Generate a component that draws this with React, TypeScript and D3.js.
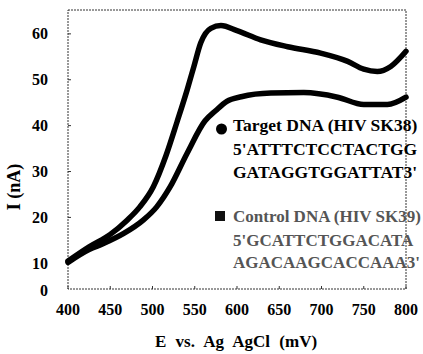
import React, { useEffect, useRef } from 'react';
import * as d3 from 'd3';

// E (mV) and current (nA)
const targetE = [400, 425, 450, 470, 485, 501, 516, 529, 541, 549, 557, 569, 581, 600, 628, 660, 699, 731, 750, 766, 782, 800];
const targetI = [10.5, 13.6, 16.3, 19.4, 22.3, 26.7, 33.5, 40.8, 47.8, 52.9, 58, 61.2, 61.8, 60.7, 58.7, 57.2, 55.8, 54, 52.3, 51.8, 52.9, 56.2];

const controlE = [400, 425, 442, 466, 489, 505, 521, 541, 562, 575, 588, 605, 640, 679, 719, 750, 778, 800];
const controlI = [10.2, 13.0, 14.3, 16.5, 19.4, 22.3, 26.7, 34, 41, 43.3, 45.3, 46.3, 47.1, 47.2, 46.2, 44.6, 44.6, 46.2];

const xTicks = [400, 450, 500, 550, 600, 650, 700, 750, 800];
const yTicks = [10, 20, 30, 40, 50, 60];

const targetLegend = ['Target DNA (HIV SK38)', "5'ATTTCTCCTACTGG", "GATAGGTGGATTAT3'"];
const controlLegend = ['Control DNA (HIV SK39)', "5'GCATTCTGGACATA", "AGACAAGCACCAAA3'"];

const W = 423;
const H = 354;
const FONT = "'Liberation Serif', 'Times New Roman', Tinos, 'DejaVu Serif', serif";

function App() {
  const ref = useRef<SVGSVGElement | null>(null);

  useEffect(() => {
    const svg = d3.select(ref.current);
    svg.selectAll('*').remove();

    const left = 68, right = 406, top = 10, bottom = 289;

    const x = d3.scaleLinear().domain([400, 800]).range([left, right]);
    const y = d3.scaleLinear().domain([4.4, 65.2]).range([bottom, top]);

    // frame
    svg.append('rect')
      .attr('x', left)
      .attr('y', top)
      .attr('width', right - left)
      .attr('height', bottom - top)
      .attr('fill', 'none')
      .attr('stroke', '#333')
      .attr('stroke-width', 1)
      .attr('stroke-dasharray', '2,1');

    // ticks (inward)
    svg.selectAll('line.xt')
      .data(xTicks)
      .enter().append('line')
      .attr('class', 'xt')
      .attr('x1', d => x(d)).attr('x2', d => x(d))
      .attr('y1', bottom).attr('y2', bottom - 3)
      .attr('stroke', '#333');

    svg.selectAll('line.yt')
      .data(yTicks)
      .enter().append('line')
      .attr('class', 'yt')
      .attr('x1', left).attr('x2', left + 3)
      .attr('y1', d => y(d)).attr('y2', d => y(d))
      .attr('stroke', '#333');

    // tick labels
    svg.selectAll('text.xl')
      .data(xTicks)
      .enter().append('text')
      .attr('class', 'xl')
      .attr('x', d => x(d))
      .attr('y', 315)
      .attr('text-anchor', 'middle')
      .style('font-family', FONT)
      .attr('font-weight', 'bold')
      .attr('font-size', 16)
      .text(d => d);

    svg.selectAll('text.yl')
      .data(yTicks)
      .enter().append('text')
      .attr('class', 'yl')
      .attr('x', 48)
      .attr('y', d => y(d))
      .attr('dy', '0.35em')
      .attr('text-anchor', 'end')
      .style('font-family', FONT)
      .attr('font-weight', 'bold')
      .attr('font-size', 16)
      .text(d => d);

    // the "0" label sits at the bottom of the axis in the original
    svg.append('text')
      .attr('x', 48)
      .attr('y', bottom + 1)
      .attr('dy', '0.35em')
      .attr('text-anchor', 'end')
      .style('font-family', FONT)
      .attr('font-weight', 'bold')
      .attr('font-size', 16)
      .text('0');

    // axis titles
    svg.append('text')
      .attr('x', 236)
      .attr('y', 347)
      .attr('text-anchor', 'middle')
      .style('font-family', FONT)
      .attr('font-weight', 'bold')
      .attr('font-size', 17)
      .attr('word-spacing', 5)
      .text('E vs. Ag AgCl (mV)');

    svg.append('text')
      .attr('transform', 'translate(20,187) rotate(-90)')
      .attr('text-anchor', 'middle')
      .style('font-family', FONT)
      .attr('font-weight', 'bold')
      .attr('font-size', 18)
      .text('I (nA)');

    // curves
    const line = d3.line<[number, number]>()
      .x(d => x(d[0]))
      .y(d => y(d[1]))
      .curve(d3.curveMonotoneX);

    const series = [
      { e: controlE, i: controlI },
      { e: targetE, i: targetI },
    ];

    series.forEach(s => {
      const pts = s.e.map((e, k) => [e, s.i[k]] as [number, number]);
      svg.append('path')
        .attr('d', line(pts))
        .attr('fill', 'none')
        .attr('stroke', '#000')
        .attr('stroke-width', 5.5)
        .attr('stroke-linecap', 'round')
        .attr('stroke-linejoin', 'round');
    });

    // legend
    svg.append('circle')
      .attr('cx', 221.5)
      .attr('cy', 129)
      .attr('r', 5.5)
      .attr('fill', '#000');

    svg.append('rect')
      .attr('x', 215)
      .attr('y', 211)
      .attr('width', 10)
      .attr('height', 10)
      .attr('fill', '#111');

    const targetY = [131, 155, 178];
    const controlY = [222, 246, 268];

    svg.selectAll('text.tl')
      .data(targetLegend)
      .enter().append('text')
      .attr('class', 'tl')
      .attr('x', 233)
      .attr('y', (d, k) => targetY[k])
      .style('font-family', FONT)
      .attr('font-weight', 'bold')
      .attr('font-size', 17.5)
      .attr('fill', '#000')
      .text(d => d);

    svg.selectAll('text.cl')
      .data(controlLegend)
      .enter().append('text')
      .attr('class', 'cl')
      .attr('x', 233)
      .attr('y', (d, k) => controlY[k])
      .style('font-family', FONT)
      .attr('font-weight', 'bold')
      .attr('font-size', 17)
      .attr('fill', '#555')
      .text(d => d);
  }, []);

  return (
    <svg
      ref={ref}
      width={W}
      height={H}
      style={{ position: 'absolute', left: 0, top: 0, background: '#fff' }}
    />
  );
}

export default App;
